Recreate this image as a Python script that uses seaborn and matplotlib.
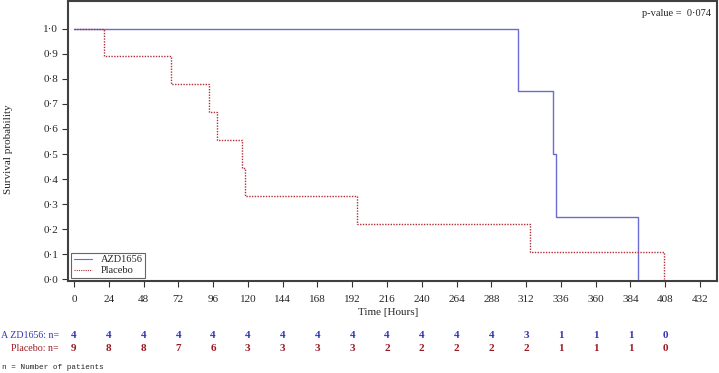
import numpy as np
import pandas as pd
import matplotlib
matplotlib.use("Agg")
import matplotlib.pyplot as plt
import seaborn as sns
from matplotlib.transforms import blended_transform_factory

# ---- data ----
azd_times = [0, 306.5, 330.3, 332.5, 389.5]
azd_surv = [1.0, 0.75, 0.5, 0.25, 0.0]
pla_times = [0, 21.0, 66.7, 93.4, 98.4, 116.0, 118.3, 195.3, 314.5, 407.4]
pla_surv = [1.0, 0.889, 0.778, 0.667, 0.556, 0.444, 0.333, 0.222, 0.111, 0.0]

risk_times = [0, 24, 48, 72, 96, 120, 144, 168, 192, 216, 240, 264, 288, 312, 336, 360, 384, 408]
azd_risk = [4, 4, 4, 4, 4, 4, 4, 4, 4, 4, 4, 4, 4, 3, 1, 1, 1, 0]
pla_risk = [9, 8, 8, 7, 6, 3, 3, 3, 3, 2, 2, 2, 2, 2, 1, 1, 1, 0]

x_ticks = list(range(0, 433, 24))
y_ticks = [0.0, 0.1, 0.2, 0.3, 0.4, 0.5, 0.6, 0.7, 0.8, 0.9, 1.0]
p_value_text = "p-value =  0\u00b7074"

df = pd.concat([
    pd.DataFrame({"time": azd_times, "surv": azd_surv, "group": "AZD1656"}),
    pd.DataFrame({"time": pla_times, "surv": pla_surv, "group": "Placebo"}),
], ignore_index=True)

sns.set_theme(style="white")
plt.rcParams["font.family"] = ["Liberation Serif", "DejaVu Serif"]

blue = "#6b6bd6"
red = "#b0303a"
blue_txt = "#3535b5"
red_txt = "#9a1b25"

fig = plt.figure(figsize=(7.19, 3.73), dpi=100)
ax = fig.add_axes([68 / 719, 1 - 281 / 373, (717 - 68) / 719, 280 / 373])

sns.lineplot(data=df[df.group == "AZD1656"], x="time", y="surv", ax=ax,
             drawstyle="steps-post", color=blue, lw=1.0, label="AZD1656",
             estimator=None, sort=False)
sns.lineplot(data=df[df.group == "Placebo"], x="time", y="surv", ax=ax,
             drawstyle="steps-post", color=red, lw=1.0, label="Placebo",
             estimator=None, sort=False)
ax.lines[1].set_linestyle((0, (1, 1)))

ax.set_xlim(-4.1, 443.7)
ax.set_ylim(-0.006, 1.11)
ax.set_xticks(x_ticks)
ax.set_xticklabels([str(t) for t in x_ticks], fontsize=8)
ax.set_yticks(y_ticks)
ax.set_yticklabels([f"{v:.1f}".replace(".", "\u00b7") for v in y_ticks], fontsize=8)
ax.tick_params(axis="x", which="both", direction="out", length=4, width=0.8,
               color="#333333", bottom=True, pad=6)
ax.tick_params(axis="y", which="both", direction="out", length=4, width=0.8,
               color="#333333", left=True, pad=3)
ax.set_xlabel("Time [Hours]", fontsize=8)
ax.xaxis.set_label_coords((388 - 68) / 649, (281 - 308) / 280)
ax.set_ylabel("Survival probability", fontsize=8)
ax.yaxis.set_label_coords((13 - 68) / 649, 1 - 148 / 280)
for s in ax.spines.values():
    s.set_color("#404040")
    s.set_linewidth(1.5)

leg = ax.legend(loc="lower left", fontsize=7.5, frameon=True, fancybox=False,
                handlelength=1.8, borderpad=0.25, labelspacing=0.15,
                handletextpad=0.8, borderaxespad=0.3)
leg.get_frame().set_edgecolor("#404040")
leg.get_frame().set_linewidth(0.8)
for h in leg.get_lines():
    h.set_linewidth(0.8)

ax.text(0.991, 0.955, p_value_text, transform=ax.transAxes, ha="right",
        va="center", fontsize=7.5)

trans = blended_transform_factory(ax.transData, fig.transFigure)
y_azd = 1 - 336 / 373
y_pla = 1 - 348.5 / 373
for t, a, p in zip(risk_times, azd_risk, pla_risk):
    ax.text(t, y_azd, str(a), transform=trans, ha="center", va="center",
            fontsize=8, fontweight="bold", color=blue_txt, clip_on=False)
    ax.text(t, y_pla, str(p), transform=trans, ha="center", va="center",
            fontsize=8, fontweight="bold", color=red_txt, clip_on=False)
fig.text(59 / 719, y_azd, "A ZD1656: n=", ha="right", va="center",
         fontsize=7.2, color=blue_txt)
fig.text(59 / 719, y_pla, "Placebo: n=", ha="right", va="center",
         fontsize=7.2, color=red_txt)
fig.text(2 / 719, 1 - 367.5 / 373, "n = Number of patients", ha="left",
         va="center", fontsize=5.5, family=["Liberation Mono", "DejaVu Sans Mono"])

fig.savefig("out.png", dpi=100)
